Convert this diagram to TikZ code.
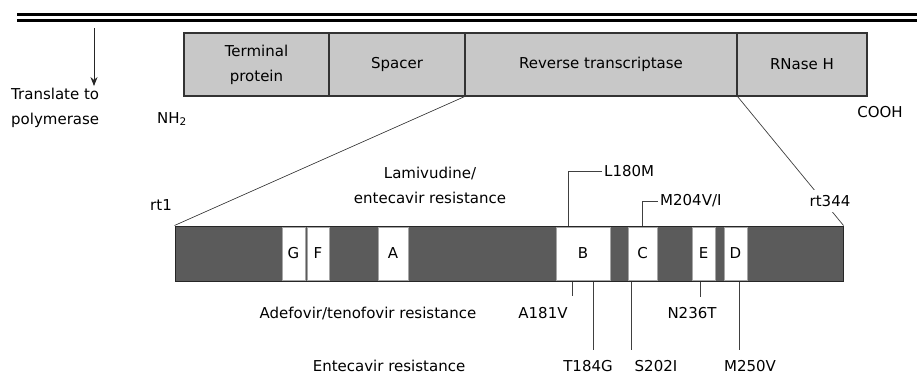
\documentclass[tikz,border=0pt]{standalone}
\usepackage{fontspec}
\setmainfont{DejaVu Sans}
\usetikzlibrary{arrows.meta,positioning}
\definecolor{cdom}{HTML}{C8C8C8}
\definecolor{cbar}{HTML}{5B5B5B}
\definecolor{cedge}{HTML}{333333}
\tikzset{
  dom/.style={draw=cedge, line width=1.4pt, fill=cdom, minimum height=63pt, inner sep=0pt, align=center},
  bar/.style={draw=black!85, line width=1pt, fill=cbar, minimum width=668pt, minimum height=55pt, inner sep=0pt},
  motif/.style={draw=black!35, line width=0.6pt, fill=white, minimum height=53pt, inner sep=0pt},
  lbl/.style={inner sep=2pt, align=center},
  tick/.style={draw=black!75, line width=0.8pt},
  zoomln/.style={draw=black!75, line width=0.7pt},
  gene/.style={line width=3pt},
  pre/.style={-{Stealth[length=9pt,width=7pt]}, draw=black!85, line width=0.9pt},
}
\begin{document}
\begin{tikzpicture}[x=1pt,y=-1pt,font=\fontsize{15}{25}\selectfont]
\useasboundingbox (0,0) rectangle (917,374);
% genome and translation arrow
\draw[gene] (17,15) -- (917,15);
\draw[gene] (17,21) -- (917,21);
\coordinate (dna) at (94,28);
\node[lbl, align=left, anchor=west] (tr) at (9,108) {Translate to\\polymerase};
\draw[pre] (dna) -- (dna |- tr.north);
% polymerase domains
\node[dom, minimum width=145pt] (tp) at (256.5,64.5) {Terminal\\protein};
\node[dom, minimum width=136pt] (sp) at (397,64.5) {Spacer};
\node[dom, minimum width=272pt] (rt) at (601,64.5) {Reverse transcriptase};
\node[dom, minimum width=130pt] (rh) at (802,64.5) {RNase H};
\node[lbl] (nh) at (172,119) {NH\textsubscript{2}};
\node[lbl] (cooh) at (880,112) {COOH};
% rt region with motifs
\node[bar] (bar) at (509,253.5) {};
\foreach \m/\x/\w in {G/293.5/23, F/318/22, A/393/30, B/583/54, C/642.5/29, E/703.5/23, D/735.5/23}
  \node[motif, minimum width=\w pt] (\m) at (\x,253.5) {\m};
\draw[zoomln] (bar.north west) -- (rt.south west);
\draw[zoomln] (rt.south east) -- (bar.north east);
\node[lbl] (rt1) at (161,205) {rt1};
\node[lbl, fill=white, inner sep=5pt] (rt344) at (830,201) {rt344};
% resistance mutations
\node[lbl] (lam) at (430,185) {Lamivudine/\\entecavir resistance};
\node[lbl] (adv) at (368,313) {Adefovir/tenofovir resistance};
\node[lbl] (etv) at (389,366) {Entecavir resistance};
\node[lbl, anchor=west] (l180) at (602,171) {L180M};
\node[lbl, anchor=west] (m204) at (658,201) {M204V/I};
\coordinate (p180) at (bar.north -| 568,0);
\coordinate (p204) at (bar.north -| 642,0);
\draw[tick] (p180) |- (l180.west);
\draw[tick] (p204) |- (m204.west);
\node[lbl] (a181) at (543,313) {A181V};
\node[lbl] (n236) at (692,313) {N236T};
\node[lbl] (t184) at (588,366) {T184G};
\node[lbl] (s202) at (656,366) {S202I};
\node[lbl] (m250) at (750,366) {M250V};
\coordinate (p181) at (bar.south -| 572,0);
\coordinate (p236) at (bar.south -| 700,0);
\coordinate (p184) at (bar.south -| 593,0);
\coordinate (p202) at (bar.south -| 631,0);
\coordinate (p250) at (bar.south -| 739,0);
\draw[tick] (p181) -- ++(0,14);
\draw[tick] (p236) -- ++(0,15);
\draw[tick] (p184) -- ++(0,68);
\draw[tick] (p202) -- ++(0,68);
\draw[tick] (p250) -- ++(0,68);
\end{tikzpicture}
\end{document}
